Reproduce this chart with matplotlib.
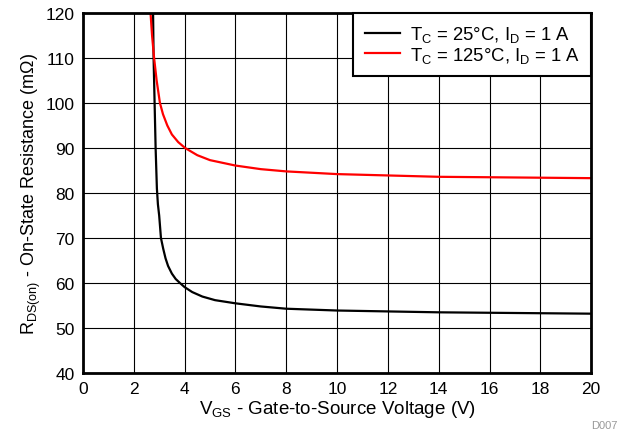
import matplotlib
matplotlib.use("Agg")
import matplotlib.pyplot as plt

plt.rcParams['font.family'] = ['Liberation Sans', 'DejaVu Sans']
plt.rcParams['mathtext.fontset'] = 'custom'
plt.rcParams['mathtext.rm'] = 'Liberation Sans'
plt.rcParams['mathtext.it'] = 'Liberation Sans:italic'

# 数据
vgs_25 = [2.76, 2.78, 2.82, 2.86, 2.91, 2.95, 3.00, 3.07, 3.16, 3.25, 3.35, 3.50, 3.65, 3.82, 4.0,
          4.3, 4.7, 5.2, 6.0, 7.0, 8.0, 10, 12, 14, 16, 18, 20]
r_25 = [120, 110, 100, 90, 81, 77.5, 75, 70, 67.6, 65.5, 63.8, 62.1, 60.9, 60, 59.1,
        58.0, 57.0, 56.2, 55.5, 54.8, 54.3, 53.9, 53.7, 53.5, 53.4, 53.3, 53.2]

vgs_125 = [2.66, 2.72, 2.80, 2.90, 3.03, 3.15, 3.32, 3.50, 3.75, 4.02, 4.5, 5.0, 6.0,
           7.0, 8.0, 10, 12, 14, 16, 18, 20]
r_125 = [120, 115, 110, 105, 100, 97.5, 95, 93, 91.3, 90, 88.4, 87.3, 86.1,
         85.3, 84.8, 84.2, 83.9, 83.6, 83.5, 83.4, 83.3]

x_ticks = list(range(0, 21, 2))
y_ticks = list(range(40, 121, 10))

fig = plt.figure(figsize=(6.19, 4.35), dpi=100)
ax = fig.add_axes([0.134, 0.140, 0.821, 0.828])

ax.plot(vgs_25, r_25, color='black', lw=1.6, label=r'T$_{\mathrm{C}}$ = 25°C, I$_{\mathrm{D}}$ = 1 A')
ax.plot(vgs_125, r_125, color='#ff0000', lw=1.6, label=r'T$_{\mathrm{C}}$ = 125°C, I$_{\mathrm{D}}$ = 1 A')

ax.set_xlim(0, 20)
ax.set_ylim(40, 120)
ax.set_xticks(x_ticks)
ax.set_yticks(y_ticks)
ax.tick_params(length=0, labelsize=12.5, pad=6)
ax.grid(True, color='black', lw=0.8)
ax.set_axisbelow(True)
for s in ax.spines.values():
    s.set_linewidth(2)

ax.set_xlabel(r'V$_{\mathrm{GS}}$ - Gate-to-Source Voltage (V)', fontsize=13.5, labelpad=1)
ax.set_ylabel(r'R$_{\mathrm{DS(on)}}$ - On-State Resistance (m$\Omega$)', fontsize=13, labelpad=2)

leg = ax.legend(loc='upper right', fontsize=13.3, borderaxespad=0, fancybox=False,
                framealpha=1, edgecolor='black', handlelength=1.9, handletextpad=0.55,
                labelspacing=0.05, borderpad=0.6)
leg.get_frame().set_linewidth(1.5)

fig.text(0.998, 0.01, 'D007', color='#999999', fontsize=8, ha='right', va='bottom')

fig.savefig('out.png', dpi=100)
